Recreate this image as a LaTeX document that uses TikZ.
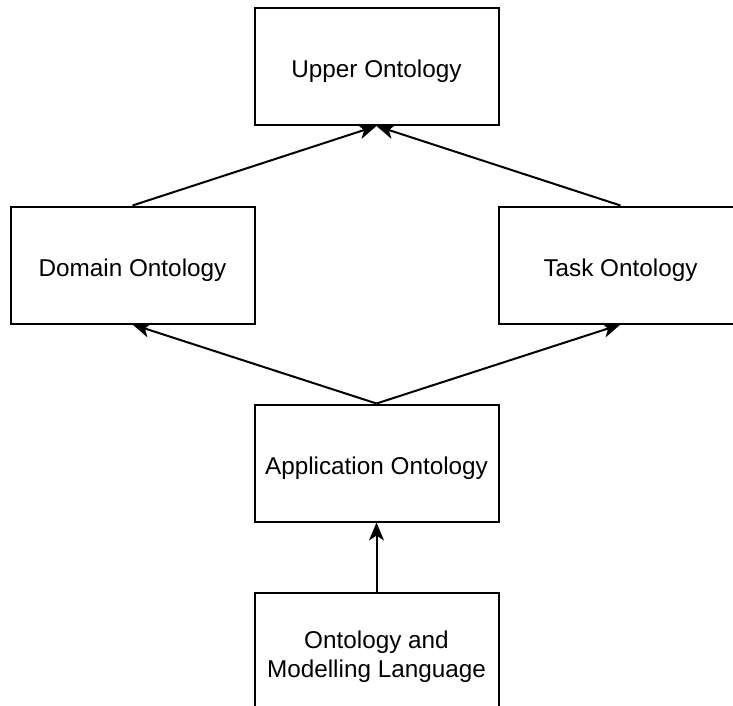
\documentclass[tikz,border=0pt]{standalone}
\usepackage{fontspec}
\setmainfont{Liberation Sans}
\usetikzlibrary{arrows.meta}
\begin{document}
\begin{tikzpicture}[x=1pt,y=-1pt,
  box/.style={draw=black, line width=2pt, fill=white, rectangle,
    minimum width=244pt, minimum height=117pt, inner sep=0pt,
    align=center, font=\fontsize{24.3}{29}\selectfont},
  oneline/.style={text height=23pt, text depth=0pt},
  arr/.style={draw=black, line width=2pt,
    -{Stealth[length=18pt,width=15pt,inset=5pt]}}]
  \useasboundingbox (0,0) rectangle (733,706);
  \clip (0,0) rectangle (733,706);
  \fill[white] (0,0) rectangle (733,706);

  % ontology layers
  \node[box, oneline] (upper) at (376.5,66.5) {Upper Ontology};
  \node[box, oneline] (domain) at (132.5,265) {Domain Ontology};
  \node[box, oneline] (task) at (620.5,265) {Task Ontology};
  \node[box, oneline] (app) at (376.5,463) {Application Ontology};
  \node[box, text height=53pt, text depth=0pt] (lang) at (376.5,651)
    {Ontology and\\Modelling Language};

  % specialisation links
  \draw[arr] (domain.north) -- (upper.south);
  \draw[arr] (task.north) -- (upper.south);
  \draw[arr] (app.north) -- (domain.south);
  \draw[arr] (app.north) -- (task.south);
  \draw[arr] (lang.north) -- (app.south);
\end{tikzpicture}
\end{document}
